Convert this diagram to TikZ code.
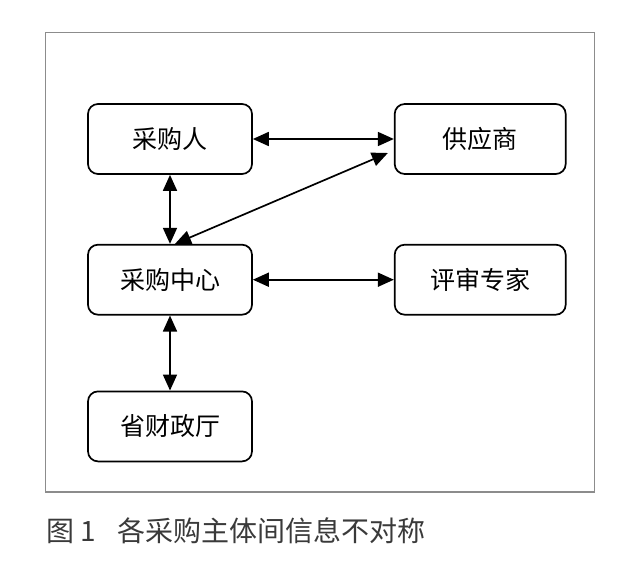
\documentclass[tikz,border=0pt]{standalone}
\usepackage{xcolor}
\usepackage{fontspec}
\setmainfont{Noto Sans CJK SC}
\usepackage{tikz}
\usetikzlibrary{positioning, arrows.meta, calc}

\definecolor{framegray}{HTML}{8C8C8C}
\definecolor{capgray}{HTML}{3A3A3A}

\begin{document}
\begin{tikzpicture}[
        x=1pt, y=1pt,
        % boxes 164/171 wide, 70 high; gaps 141 across, 69/75 down
        node distance=69pt and 141pt,
        every node/.style={font=\fontsize{25}{30}\selectfont},
        party/.style={draw, rounded corners=10pt, line width=1.7pt,
                      minimum width=164pt, minimum height=70pt,
                      inner sep=0pt},
        partyr/.style={party, minimum width=171pt},
        link/.style={{Triangle[length=16pt, width=14pt]}-{Triangle[length=16pt, width=14pt]},
                     line width=1.7pt}
    ]

    \useasboundingbox (0,0) rectangle (624,-567);

    % --- outer frame ---
    \draw[framegray, line width=1.2pt] (45.5,-32.5) rectangle (594.5,-492);

    % --- left column ---
    \node[party] (buyer) at (170,-139) {采购人};
    \node[party, below=of buyer] (centre) {采购中心};
    \node[party, below=75pt of centre] (finance) {省财政厅};

    % --- right column ---
    \node[partyr, right=of buyer] (supplier) {供应商};
    \node[partyr, right=of centre] (experts) {评审专家};

    % free ends of the slanted link
    \coordinate (diagA) at ([xshift=5pt]centre.north);
    \coordinate (diagB) at ([xshift=-6pt, yshift=-14pt]supplier.west);

    % --- links ---
    \draw[link] (buyer) -- (supplier);
    \draw[link] (buyer) -- (centre);
    \draw[link] (diagA) -- (diagB);
    \draw[link] (centre) -- (experts);
    \draw[link] (centre) -- (finance);

    % --- caption ---
    \node[anchor=west, inner sep=0pt, text=capgray,
          font=\fontsize{28}{32}\selectfont] (caption) at (46,-531)
          {图 1\hspace{21pt}各采购主体间信息不对称};

\end{tikzpicture}
\end{document}
